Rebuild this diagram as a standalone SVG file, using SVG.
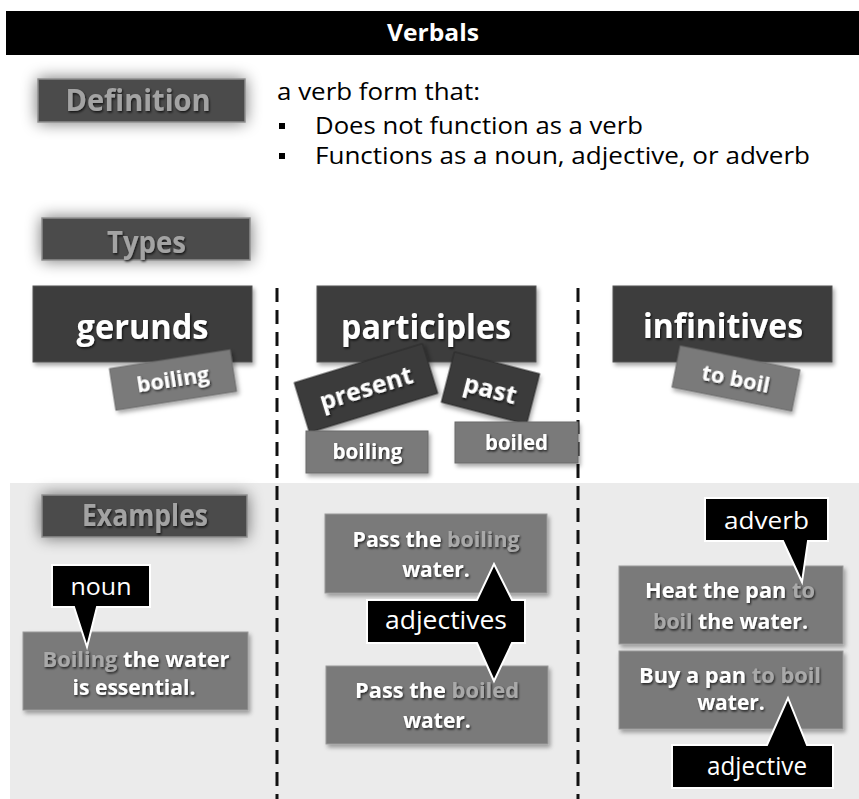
<svg xmlns="http://www.w3.org/2000/svg" width="859" height="799" viewBox="0 0 859 799">
<defs>
  <filter id="glow" x="-30%" y="-80%" width="160%" height="260%">
    <feGaussianBlur in="SourceAlpha" stdDeviation="8"/>
    <feComponentTransfer><feFuncA type="linear" slope="0.55"/></feComponentTransfer>
    <feMerge><feMergeNode/><feMergeNode in="SourceGraphic"/></feMerge>
  </filter>
  <filter id="shadow" x="-10%" y="-20%" width="130%" height="160%">
    <feDropShadow dx="2" dy="3" stdDeviation="2" flood-color="#000" flood-opacity="0.35"/>
  </filter>
  <filter id="ts" x="-10%" y="-40%" width="125%" height="190%">
    <feDropShadow dx="1" dy="1.5" stdDeviation="1" flood-color="#000" flood-opacity="0.75"/>
  </filter>
</defs>
<style>
  .b{font-family:"Open Sans","Liberation Sans",sans-serif;font-weight:700}
  .r{font-family:"Open Sans","Liberation Sans",sans-serif;font-weight:400}
  .c{text-anchor:middle}
  .title{fill:#4b4b4b;stroke:#8c8c8c;stroke-width:1.5}
  .tt{fill:#a3a3a3;font-size:31px}
  .type{fill:#3d3d3d;stroke:#555;stroke-width:1}
  .tag{fill:#7a7a7a;stroke:#6a6a6a;stroke-width:1}
  .dtag{fill:#3a3a3a;stroke:#2c2c2c;stroke-width:1}
  .ex{fill:#7a7a7a;stroke:#9a9a9a;stroke-width:1}
  .w{fill:#fff}
  .hl{fill:#a9a9a9}
  .call{fill:#000;stroke:#fff;stroke-width:2}
  .div{stroke:#111;stroke-width:3;stroke-dasharray:14 8;fill:none}
</style>

<rect id="examples-bg" x="10" y="483" width="849" height="316" fill="#ebebeb"/>

<g id="dividers">
  <line class="div" x1="277" y1="288" x2="277" y2="799"/>
  <line class="div" x1="578" y1="288" x2="578" y2="799"/>
</g>

<g id="header">
  <rect x="6" y="11" width="853" height="44" fill="#000"/>
  <text class="b c w" x="433" y="41" font-size="23" textLength="92" lengthAdjust="spacingAndGlyphs">Verbals</text>
</g>

<g id="definition">
  <rect class="title" x="38" y="79" width="207" height="43" filter="url(#glow)"/>
  <text class="b c tt" x="138" y="111" textLength="145" lengthAdjust="spacingAndGlyphs" filter="url(#ts)">Definition</text>
</g>

<g id="definition-text" class="r" font-size="23" fill="#000">
  <text x="277" y="100" textLength="203" lengthAdjust="spacingAndGlyphs">a verb form that:</text>
  <rect x="279" y="123" width="6" height="6"/>
  <text x="315" y="134" textLength="328" lengthAdjust="spacingAndGlyphs">Does not function as a verb</text>
  <rect x="279" y="153" width="6" height="6"/>
  <text x="315" y="164" textLength="495" lengthAdjust="spacingAndGlyphs">Functions as a noun, adjective, or adverb</text>
</g>

<g id="types">
  <rect class="title" x="42" y="218" width="208" height="42" filter="url(#glow)"/>
  <text class="b c tt" x="146.5" y="253" textLength="79" lengthAdjust="spacingAndGlyphs" filter="url(#ts)">Types</text>
</g>

<g id="gerunds">
  <rect class="type" x="33" y="286" width="219" height="76" filter="url(#shadow)"/>
  <text class="b c w" x="142.5" y="339" font-size="34" textLength="132" lengthAdjust="spacingAndGlyphs" filter="url(#ts)">gerunds</text>
</g>
<g id="gerund-boiling" transform="translate(173,380) rotate(-8.9)">
  <rect class="tag" x="-61" y="-21" width="122" height="42" filter="url(#shadow)"/>
  <text class="b c w" x="0" y="7" font-size="22" textLength="73" lengthAdjust="spacingAndGlyphs" filter="url(#ts)">boiling</text>
</g>

<g id="participles">
  <rect class="type" x="317" y="286" width="219" height="76" filter="url(#shadow)"/>
  <text class="b c w" x="426" y="339" font-size="34" textLength="170" lengthAdjust="spacingAndGlyphs" filter="url(#ts)">participles</text>
</g>
<g id="present" transform="translate(366,388) rotate(-17)">
  <rect class="dtag" x="-67" y="-26" width="134" height="52" filter="url(#shadow)"/>
  <text class="b c w" x="0" y="9" font-size="25" textLength="96" lengthAdjust="spacingAndGlyphs" filter="url(#ts)">present</text>
</g>
<g id="past" transform="translate(490.5,388) rotate(14.5)">
  <rect class="dtag" x="-44" y="-26" width="88" height="52" filter="url(#shadow)"/>
  <text class="b c w" x="0" y="10" font-size="25" textLength="54" lengthAdjust="spacingAndGlyphs" filter="url(#ts)">past</text>
</g>
<g id="participle-boiling">
  <rect class="tag" x="306" y="431" width="122" height="42" filter="url(#shadow)"/>
  <text class="b c w" x="367.5" y="459" font-size="22" textLength="70" lengthAdjust="spacingAndGlyphs" filter="url(#ts)">boiling</text>
</g>
<g id="participle-boiled">
  <rect class="tag" x="455" y="422" width="123" height="41" filter="url(#shadow)"/>
  <text class="b c w" x="516.5" y="450" font-size="22" textLength="63" lengthAdjust="spacingAndGlyphs" filter="url(#ts)">boiled</text>
</g>

<g id="infinitives">
  <rect class="type" x="613" y="286" width="219" height="76" filter="url(#shadow)"/>
  <text class="b c w" x="723" y="338" font-size="34" textLength="160" lengthAdjust="spacingAndGlyphs" filter="url(#ts)">infinitives</text>
</g>
<g id="to-boil" transform="translate(736,378.5) rotate(11.3)">
  <rect class="tag" x="-61" y="-21" width="122" height="42" filter="url(#shadow)"/>
  <text class="b c w" x="0" y="8" font-size="22" textLength="69" lengthAdjust="spacingAndGlyphs" filter="url(#ts)">to boil</text>
</g>

<g id="examples">
  <rect class="title" x="42" y="495" width="205" height="42" filter="url(#glow)"/>
  <text class="b c tt" x="145" y="526" textLength="126" lengthAdjust="spacingAndGlyphs" filter="url(#ts)">Examples</text>
</g>

<g id="ex-gerund" class="b" font-size="21">
  <rect class="ex" x="23" y="632" width="225" height="78" filter="url(#shadow)"/>
  <text class="c w" x="136" y="667" textLength="187" lengthAdjust="spacingAndGlyphs" filter="url(#ts)"><tspan class="hl">Boiling</tspan> the water</text>
  <text class="c w" x="134" y="695" textLength="123" lengthAdjust="spacingAndGlyphs" filter="url(#ts)">is essential.</text>
</g>

<g id="ex-participle-1" class="b" font-size="21">
  <rect class="ex" x="325" y="514" width="222" height="79" filter="url(#shadow)"/>
  <text class="c w" x="436" y="547" textLength="167" lengthAdjust="spacingAndGlyphs" filter="url(#ts)">Pass the <tspan class="hl">boiling</tspan></text>
  <text class="c w" x="436" y="577" filter="url(#ts)">water.</text>
</g>

<g id="ex-participle-2" class="b" font-size="21">
  <rect class="ex" x="326" y="666" width="222" height="78" filter="url(#shadow)"/>
  <text class="c w" x="437" y="698" textLength="164" lengthAdjust="spacingAndGlyphs" filter="url(#ts)">Pass the <tspan class="hl">boiled</tspan></text>
  <text class="c w" x="437" y="728" filter="url(#ts)">water.</text>
</g>

<g id="ex-infinitive-1" class="b" font-size="21">
  <rect class="ex" x="619" y="566" width="224" height="78" filter="url(#shadow)"/>
  <text class="c w" x="730" y="598" textLength="170" lengthAdjust="spacingAndGlyphs" filter="url(#ts)">Heat the pan <tspan class="hl">to</tspan></text>
  <text class="c w" x="730.5" y="629" textLength="155" lengthAdjust="spacingAndGlyphs" filter="url(#ts)"><tspan class="hl">boil</tspan> the water.</text>
</g>

<g id="ex-infinitive-2" class="b" font-size="21">
  <rect class="ex" x="619" y="651" width="224" height="78" filter="url(#shadow)"/>
  <text class="c w" x="730" y="683" textLength="182" lengthAdjust="spacingAndGlyphs" filter="url(#ts)">Buy a pan <tspan class="hl">to boil</tspan></text>
  <text class="c w" x="731" y="710" filter="url(#ts)">water.</text>
</g>

<g id="connectors">
  <g id="callout-noun">
    <path class="call" d="M52,565 H150 V607 H97 L87,647 L74,607 H52 Z"/>
    <text class="r c w" x="101" y="595" font-size="24" textLength="61" lengthAdjust="spacingAndGlyphs">noun</text>
  </g>
  <g id="callout-adjectives">
    <path class="call" d="M367,600 H477 L494,564 L512,600 H525 V643 H512 L494,681 L477,643 H367 Z"/>
    <text class="r c w" x="446" y="629" font-size="25" textLength="122" lengthAdjust="spacingAndGlyphs">adjectives</text>
  </g>
  <g id="callout-adverb">
    <path class="call" d="M705,498 H828 V541 H808 L802,582 L783,541 H705 Z"/>
    <text class="r c w" x="766.5" y="529" font-size="24" textLength="85" lengthAdjust="spacingAndGlyphs">adverb</text>
  </g>
  <g id="callout-adjective">
    <path class="call" d="M672,745 H767 L788,698 L807,745 H833 V788 H672 Z"/>
    <text class="r c w" x="757" y="775" font-size="25" textLength="100" lengthAdjust="spacingAndGlyphs">adjective</text>
  </g>
</g>
</svg>
